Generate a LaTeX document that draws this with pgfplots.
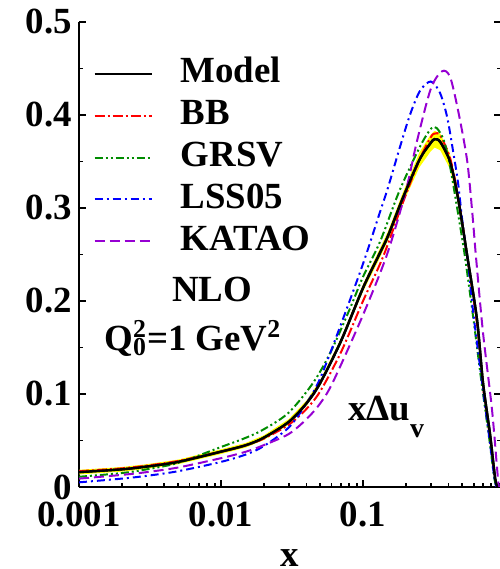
\documentclass[border=0pt]{standalone}
\usepackage{fontspec}
\setmainfont{Liberation Serif}
\usepackage{pgfplots}
\usepackage{pgfplotstable}
\pgfplotsset{compat=1.18}
\usepgfplotslibrary{fillbetween}

\definecolor{bbred}{RGB}{255,0,0}
\definecolor{grsvgreen}{RGB}{0,140,0}
\definecolor{lssblue}{RGB}{0,0,255}
\definecolor{katpurple}{RGB}{150,0,210}
\definecolor{bandyellow}{RGB}{255,255,0}
\newcommand\bigbf{\fontsize{18.5}{21}\selectfont\bfseries}

% model with its error band
\pgfplotstableread{
x      y      lo     hi
0.001  0.016  0.0135 0.0185
0.002  0.019  0.0165 0.0215
0.003  0.022  0.0195 0.0245
0.005  0.027  0.0245 0.0295
0.01   0.038  0.0355 0.0405
0.015  0.045  0.0425 0.0475
0.02   0.053  0.0505 0.0555
0.03   0.070  0.067  0.073
0.04   0.090  0.087  0.093
0.05   0.112  0.109  0.115
0.07   0.157  0.154  0.160
0.1    0.214  0.210  0.218
0.13   0.250  0.245  0.255
0.15   0.270  0.265  0.275
0.19   0.310  0.304  0.316
0.25   0.352  0.344  0.360
0.30   0.370  0.361  0.379
0.32   0.374  0.365  0.383
0.35   0.371  0.362  0.380
0.41   0.350  0.342  0.358
0.46   0.316  0.309  0.323
0.50   0.283  0.277  0.289
0.54   0.250  0.245  0.255
0.635  0.180  0.176  0.184
0.70   0.112  0.109  0.115
0.784  0.057  0.055  0.059
0.851  0.010  0.008  0.012
0.885  0.000  0.000  0.001
}\modeltab

\pgfplotstableread{
x      y
0.001  0.017
0.002  0.020
0.003  0.023
0.005  0.028
0.01   0.038
0.015  0.045
0.02   0.052
0.03   0.067
0.04   0.084
0.05   0.103
0.07   0.145
0.1    0.200
0.138  0.247
0.19   0.305
0.25   0.352
0.30   0.376
0.32   0.380
0.35   0.378
0.41   0.354
0.46   0.318
0.50   0.284
0.54   0.249
0.635  0.176
0.70   0.108
0.784  0.053
0.851  0.008
0.88   0.000
}\bbtab

\pgfplotstableread{
x      y
0.001  0.011
0.002  0.015
0.003  0.019
0.005  0.026
0.01   0.043
0.015  0.053
0.02   0.062
0.03   0.080
0.045  0.113
0.06   0.147
0.081  0.192
0.1    0.226
0.132  0.264
0.18   0.318
0.25   0.365
0.30   0.385
0.33   0.386
0.37   0.373
0.41   0.345
0.48   0.283
0.523  0.247
0.60   0.180
0.68   0.115
0.77   0.055
0.84   0.010
0.875  0.000
}\grsvtab

\pgfplotstableread{
x      y
0.001  0.005
0.002  0.009
0.003  0.012
0.005  0.017
0.01   0.027
0.015  0.035
0.02   0.044
0.03   0.064
0.04   0.090
0.05   0.117
0.07   0.175
0.1    0.240
0.13   0.293
0.15   0.322
0.18   0.363
0.214  0.400
0.252  0.426
0.30   0.436
0.348  0.424
0.391  0.398
0.43   0.362
0.467  0.327
0.506  0.280
0.55   0.240
0.60   0.185
0.70   0.105
0.78   0.050
0.845  0.008
0.875  0.000
}\lsstab

\pgfplotstableread{
x      y
0.001  0.009
0.002  0.013
0.003  0.016
0.005  0.021
0.01   0.031
0.015  0.038
0.02   0.045
0.03   0.057
0.04   0.073
0.05   0.090
0.0615 0.113
0.1    0.185
0.1476 0.250
0.2    0.318
0.24   0.372
0.30   0.428
0.36   0.447
0.41   0.441
0.467  0.405
0.54   0.352
0.586  0.298
0.625  0.247
0.70   0.166
0.81   0.083
0.893  0.008
0.91   0.000
}\katatab

\begin{document}
\begin{tikzpicture}
\begin{axis}[
  scale only axis, width=211bp, height=232.5bp,
  xmode=log, xmin=0.001, xmax=0.937, ymin=0, ymax=0.5,
  axis x line*=bottom, axis y line*=box,
  xtick={0.001,0.01,0.1}, xticklabels={0.001,0.01,0.1},
  minor xtick={0.002,0.003,0.004,0.005,0.006,0.007,0.008,0.009,
               0.02,0.03,0.04,0.05,0.06,0.07,0.08,0.09,
               0.2,0.3,0.4,0.5,0.6,0.7,0.8,0.9},
  ytick={0,0.1,0.2,0.3,0.4,0.5}, yticklabels={0,0.1,0.2,0.3,0.4,0.5},
  minor ytick={0.05,0.15,0.25,0.35,0.45},
  tick align=inside,
  major tick length=3.5bp, minor tick length=2bp,
  tick style={black, line width=1pt},
  axis line style={line width=1.3pt},
  tick label style={font=\bigbf},
  xticklabel style={yshift=-4bp},
  xlabel={x}, xlabel style={font=\bigbf, inner sep=0pt, yshift=-7.5bp},
  legend cell align=left,
  legend image code/.code={\draw[#1] (0bp,0bp) -- (28.5bp,0bp);},
  legend style={draw=none, fill=none, font=\bigbf,
    at={(axis description cs:0.033,0.93)}, anchor=north west,
    inner sep=0pt, row sep=1.9bp,
    nodes={inner sep=1bp, text height=13bp, text depth=4bp},
    /tikz/every odd column/.append style={column sep=13bp}},
]
\addplot[name path=up, draw=none, forget plot] table[x=x, y=hi] {\modeltab};
\addplot[name path=dn, draw=none, forget plot] table[x=x, y=lo] {\modeltab};
\addplot[bandyellow, forget plot] fill between[of=up and dn];

\addplot[black, line width=1.2pt, smooth] table[x=x, y=y] {\modeltab};
\addlegendentry{Model}
\addplot[bbred, line width=1pt, smooth, dash pattern=on 5bp off 1.5bp on 1bp off 1.5bp] table[x=x, y=y] {\bbtab};
\addlegendentry{BB}
\addplot[grsvgreen, line width=1pt, smooth, dash pattern=on 4bp off 1.5bp on 1bp off 1.5bp on 1bp off 1.5bp] table[x=x, y=y] {\grsvtab};
\addlegendentry{GRSV}
\addplot[lssblue, line width=1pt, smooth, dash pattern=on 4bp off 2bp on 1bp off 2bp] table[x=x, y=y] {\lsstab};
\addlegendentry{LSS05}
\addplot[katpurple, line width=1pt, smooth, dash pattern=on 5bp off 2.5bp] table[x=x, y=y] {\katatab};
\addlegendentry{KATAO}
\addplot[black, line width=1.2pt, smooth, forget plot] table[x=x, y=y] {\modeltab};

\node[font=\bigbf, anchor=base] at (axis cs:0.00865,0.199) {NLO};
\node[font=\bigbf, anchor=base west] at (axis cs:0.00135,0.147)
  {Q\rlap{\textsubscript{0}}\textsuperscript{2}=1 GeV\textsuperscript{2}};
\node[font=\bigbf, anchor=base west] at (axis cs:0.0700,0.072)
  {xΔu\raisebox{-8.5bp}{\fontsize{14}{14}\selectfont v}};
\end{axis}
\pgfresetboundingbox
\path[use as bounding box] ([shift={(-39.5bp,-41bp)}]current axis.south west)
  rectangle ([shift={(-0.5bp,11bp)}]current axis.north east);
\end{tikzpicture}
\end{document}
